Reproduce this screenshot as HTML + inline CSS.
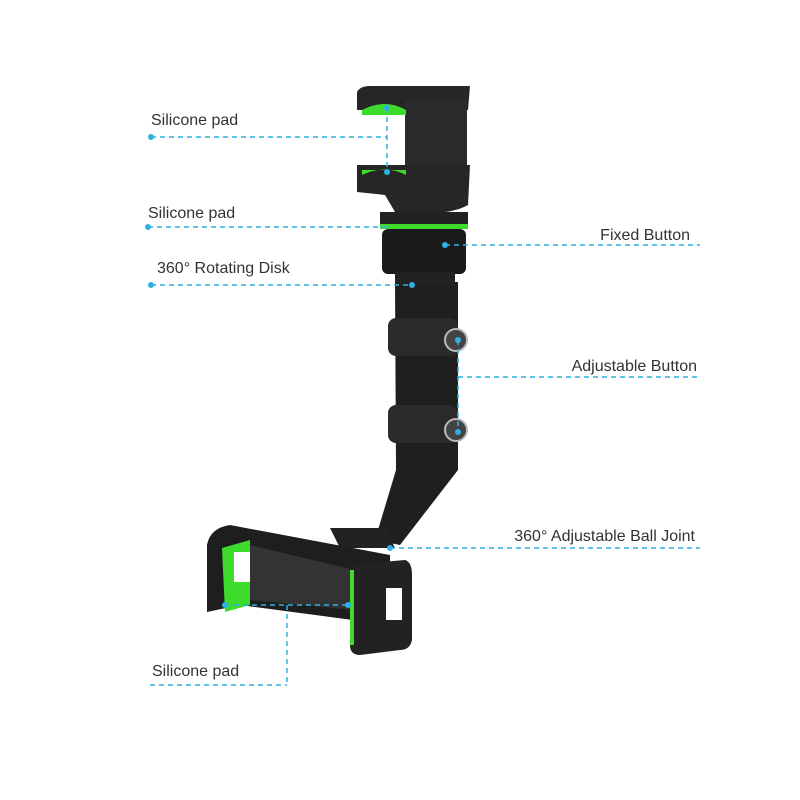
<!DOCTYPE html>
<html><head><meta charset="utf-8"><style>
html,body{margin:0;padding:0;background:#fff;}
svg{display:block}
text{font-family:"Liberation Sans",sans-serif;font-size:16px;fill:#333}
.d{stroke:#2fb0e4;stroke-width:1.5;stroke-dasharray:5,4;fill:none}
.p{fill:#2fb0e4}
</style></head><body>
<svg width="800" height="800" viewBox="0 0 800 800">
<!-- arm -->
<path d="M395 282 L458 282 L458 470 L400 545 L375 540 L396 470 Z" fill="#1f1f1f"/>
<rect x="388" y="318" width="70" height="38" rx="8" fill="#2a2a2a"/>
<rect x="388" y="405" width="70" height="38" rx="8" fill="#2a2a2a"/>
<circle cx="456" cy="340" r="11" fill="#444" stroke="#bbb" stroke-width="2"/>
<circle cx="456" cy="430" r="11" fill="#444" stroke="#bbb" stroke-width="2"/>
<!-- top clip -->
<path d="M357 92 Q360 86 370 86 L470 86 L468 110 L357 110 Z" fill="#262626"/>
<rect x="405" y="100" width="62" height="75" fill="#2b2b2b"/>
<path d="M357 165 L470 165 L468 205 Q450 215 420 212 L395 212 L385 195 L357 192 Z" fill="#262626"/>
<path d="M362 110 Q385 98 406 110 L406 115 L362 115 Z" fill="#3ddc2c"/>
<path d="M362 170 L406 170 L406 175 Q385 164 362 175 Z" fill="#3ddc2c"/>
<rect x="380" y="212" width="88" height="16" fill="#222"/>
<rect x="380" y="224" width="88" height="5" fill="#3ddc2c"/>
<rect x="382" y="229" width="84" height="45" rx="6" fill="#1b1b1b"/>
<rect x="395" y="272" width="60" height="14" fill="#222"/>
<!-- bottom holder -->
<path d="M330 528 L385 528 L395 548 L340 548 Z" fill="#222"/>
<path d="M207 545 Q210 528 230 525 L390 555 L390 625 L240 605 L207 612 Z" fill="#1e1e1e"/>
<path d="M222 548 L250 540 L250 605 L225 612 Z" fill="#3ddc2c"/>
<rect x="234" y="552" width="16" height="30" fill="#fff"/>
<path d="M250 545 L355 570 L355 610 L250 600 Z" fill="#333"/>
<path d="M350 565 L405 560 Q412 562 412 575 L412 640 Q410 650 400 650 L360 655 Q350 655 350 645 Z" fill="#222"/>
<rect x="350" y="570" width="4" height="75" fill="#3ddc2c"/>
<rect x="386" y="588" width="16" height="32" fill="#fff"/>
<!-- connectors -->
<path class="d" d="M151 137 H387 M387 108 V172"/>
<circle class="p" cx="151" cy="137" r="3"/><circle class="p" cx="387" cy="108" r="3"/><circle class="p" cx="387" cy="172" r="3"/>
<text x="151" y="125">Silicone pad</text>
<path class="d" d="M148 227 H390"/>
<circle class="p" cx="148" cy="227" r="3"/>
<text x="148" y="218">Silicone pad</text>
<path class="d" d="M151 285 H412"/>
<circle class="p" cx="151" cy="285" r="3"/><circle class="p" cx="412" cy="285" r="3"/>
<text x="157" y="273">360° Rotating Disk</text>
<path class="d" d="M445 245 H700"/>
<circle class="p" cx="445" cy="245" r="3"/>
<text x="690" y="240" text-anchor="end">Fixed Button</text>
<path class="d" d="M458 340 V432 M458 377 H700"/>
<circle class="p" cx="458" cy="340" r="3"/><circle class="p" cx="458" cy="432" r="3"/>
<text x="697" y="371" text-anchor="end">Adjustable Button</text>
<path class="d" d="M390 548 H700"/>
<circle class="p" cx="390" cy="548" r="3"/>
<text x="695" y="541" text-anchor="end">360° Adjustable Ball Joint</text>
<path class="d" d="M225 605 H348 M287 605 V685 M150 685 H287"/>
<circle class="p" cx="225" cy="605" r="3"/><circle class="p" cx="348" cy="605" r="3"/>
<text x="152" y="676">Silicone pad</text>
</svg>
</body></html>
